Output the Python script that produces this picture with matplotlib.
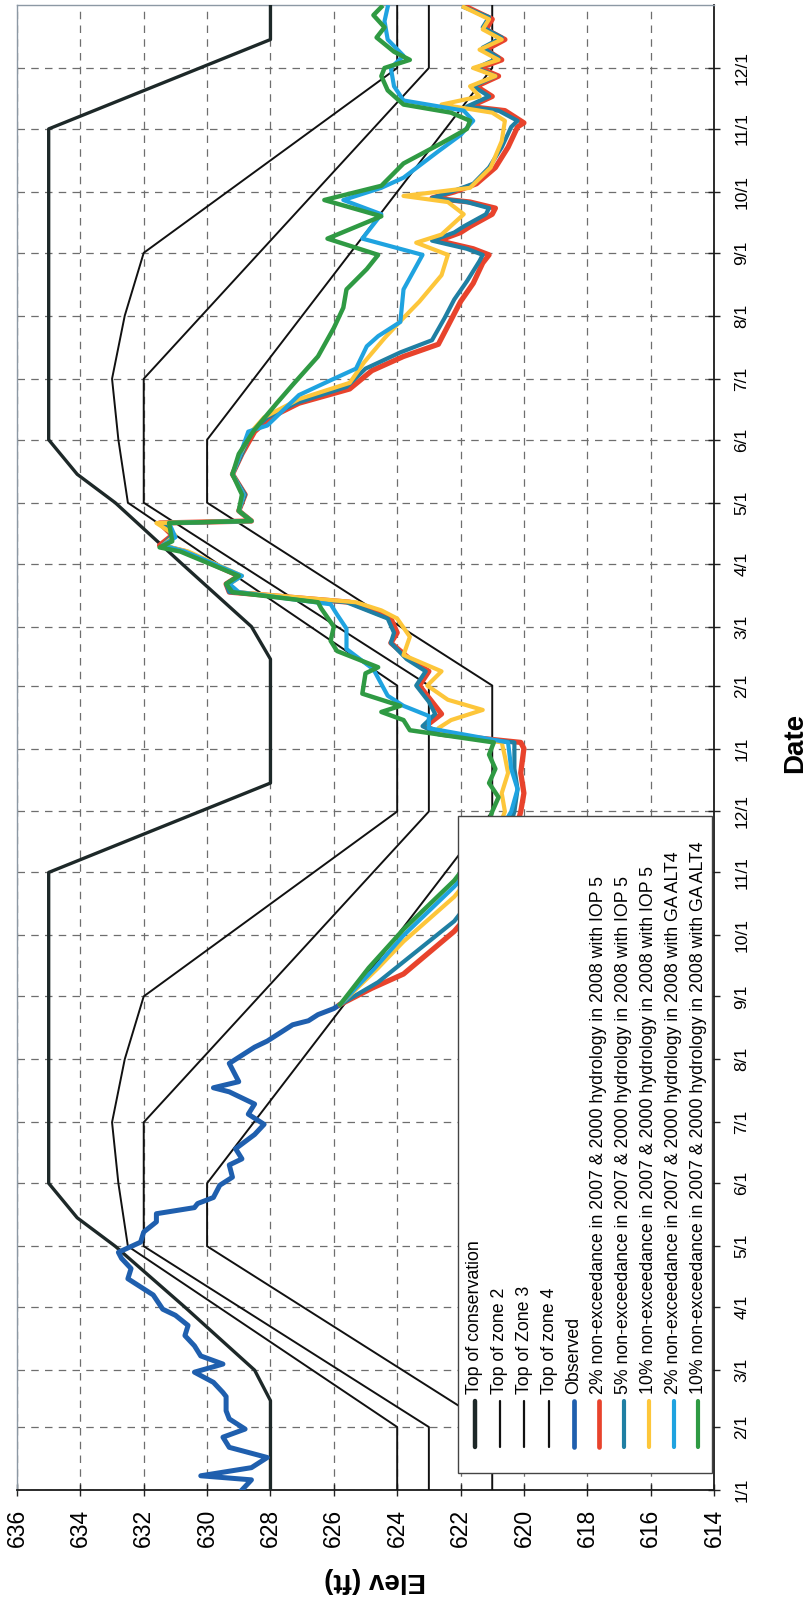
import matplotlib
matplotlib.use("Agg")
import matplotlib.pyplot as plt
import numpy as np
from matplotlib.patches import Rectangle

plt.rcParams['font.family'] = ['Liberation Sans', 'DejaVu Sans']

# ---- rule curves ----
cons_dates = ['2007-01-01', '2007-02-14', '2007-03-01', '2007-04-01', '2007-05-01', '2007-05-15',
              '2007-06-01', '2007-11-01', '2007-12-15', '2008-02-14', '2008-03-01', '2008-04-01',
              '2008-05-01', '2008-05-15', '2008-06-01', '2008-11-01', '2008-12-15', '2009-01-01']
cons_elev = [628, 628, 628.5, 630.7, 632.9, 634.1, 635, 635, 628, 628, 628.6, 630.8,
             632.9, 634.1, 635, 635, 628, 628]

zone2_dates = ['2007-01-01', '2007-02-01', '2007-05-01', '2007-06-01', '2007-07-01', '2007-08-01',
               '2007-09-01', '2007-12-01', '2008-02-01', '2008-05-01', '2008-06-01', '2008-07-01',
               '2008-08-01', '2008-09-01', '2008-12-01', '2009-01-01']
zone2_elev = [624, 624, 632.5, 632.8, 633.0, 632.6, 632.0, 624, 624, 632.5, 632.8, 633.0,
              632.6, 632.0, 624, 624]

zone3_dates = ['2007-01-01', '2007-02-01', '2007-05-01', '2007-07-01', '2007-12-01',
               '2008-02-01', '2008-05-01', '2008-07-01', '2008-12-01', '2009-01-01']
zone3_elev = [623, 623, 632, 632, 623, 623, 632, 632, 623, 623]

zone4_dates = ['2007-01-01', '2007-02-01', '2007-05-01', '2007-06-01', '2007-12-01',
               '2008-02-01', '2008-05-01', '2008-06-01', '2008-12-01', '2009-01-01']
zone4_elev = [621, 621, 630, 630, 621, 621, 630, 630, 621, 621]

# ---- observed pool elevation ----
obs_dates = ['2007-01-01', '2007-01-06', '2007-01-08', '2007-01-12', '2007-01-17', '2007-01-22',
             '2007-01-27', '2007-01-31', '2007-02-05', '2007-02-09', '2007-02-16', '2007-02-18',
             '2007-02-23', '2007-02-28', '2007-03-04', '2007-03-08', '2007-03-13', '2007-03-18',
             '2007-03-23', '2007-03-28', '2007-03-31', '2007-04-07', '2007-04-12', '2007-04-15',
             '2007-04-20', '2007-04-25', '2007-04-28', '2007-05-03', '2007-05-08', '2007-05-13',
             '2007-05-17', '2007-05-20', '2007-05-22', '2007-05-25', '2007-05-31', '2007-06-04',
             '2007-06-10', '2007-06-13', '2007-06-18', '2007-06-25', '2007-06-30', '2007-07-05',
             '2007-07-10', '2007-07-16', '2007-07-18', '2007-07-21', '2007-07-30', '2007-08-07',
             '2007-08-10', '2007-08-15', '2007-08-18', '2007-08-20', '2007-08-23', '2007-08-26',
             '2007-08-28']
obs_elev = [628.9, 628.6, 630.2, 628.6, 628.1, 629.3,
            629.5, 628.8, 629.3, 629.4, 629.4, 629.5,
            629.8, 630.4, 629.5, 630.2, 630.4, 630.7,
            630.6, 631.0, 631.4, 631.7, 632.2, 632.5,
            632.4, 632.7, 632.8, 632.1, 632.0, 631.6,
            631.6, 630.4, 630.3, 629.8, 629.6, 629.2,
            629.3, 628.9, 629.1, 628.5, 628.2, 628.7,
            628.5, 629.3, 629.8, 629.0, 629.3, 628.5,
            628.1, 627.6, 627.3, 626.8, 626.5, 626.0,
            625.8]

# ---- forecast runs ----
red_dates = ['2007-08-28', '2007-09-05', '2007-09-12', '2007-10-03', '2007-11-01', '2007-12-01',
             '2007-12-10', '2007-12-20', '2008-01-01', '2008-01-04', '2008-01-08', '2008-01-12',
             '2008-01-18', '2008-01-24', '2008-02-01', '2008-02-08', '2008-02-14', '2008-02-22',
             '2008-02-27', '2008-03-05', '2008-03-13', '2008-03-18', '2008-03-22', '2008-03-26',
             '2008-04-07', '2008-04-10', '2008-04-15', '2008-04-21', '2008-04-22', '2008-04-27',
             '2008-05-05', '2008-05-15', '2008-05-25', '2008-06-05', '2008-06-12', '2008-06-19',
             '2008-06-26', '2008-07-05', '2008-07-12', '2008-07-18', '2008-07-30', '2008-08-08',
             '2008-08-17', '2008-08-27', '2008-08-31', '2008-09-03', '2008-09-07', '2008-09-11',
             '2008-09-14', '2008-09-20', '2008-09-23', '2008-09-26', '2008-09-28', '2008-10-01',
             '2008-10-05', '2008-10-13', '2008-10-23', '2008-11-02', '2008-11-04', '2008-11-10',
             '2008-11-12', '2008-11-17', '2008-11-22', '2008-11-27', '2008-12-01', '2008-12-05',
             '2008-12-10', '2008-12-15', '2008-12-20', '2008-12-25', '2008-12-31']
red_elev = [625.8, 624.8, 623.8, 622.2, 620.6, 620.1,
            620.0, 620.1, 620.0, 620.1, 622.6, 623.1,
            622.6, 622.9, 623.3, 623.0, 623.6, 624.2,
            624.0, 624.2, 625.5, 629.3, 629.4, 629.0,
            630.7, 631.5, 631.1, 631.5, 628.6, 629.0,
            628.8, 629.2, 628.9, 628.5, 628.0, 627.1,
            625.5, 624.8, 623.8, 622.7, 622.3, 622.0,
            621.6, 621.3, 621.1, 621.6, 622.7, 622.0,
            621.7, 621.0, 620.9, 621.7, 622.9, 622.2,
            621.5, 620.9, 620.5, 620.2, 620.0, 620.6,
            621.7, 621.0, 621.5, 620.8, 621.4, 620.7,
            621.2, 620.6, 621.2, 621.0, 621.8]

teal_dates = ['2007-08-28', '2007-09-08', '2007-09-18', '2007-10-08', '2007-11-05', '2007-12-01',
              '2007-12-12', '2007-12-22', '2008-01-04', '2008-01-08', '2008-01-12', '2008-01-18',
              '2008-01-24', '2008-02-01', '2008-02-08', '2008-02-14', '2008-02-22', '2008-02-27',
              '2008-03-05', '2008-03-13', '2008-03-18', '2008-03-22', '2008-03-26', '2008-04-07',
              '2008-04-10', '2008-04-15', '2008-04-21', '2008-04-22', '2008-04-27', '2008-05-05',
              '2008-05-15', '2008-05-25', '2008-06-05', '2008-06-12', '2008-06-19', '2008-06-27',
              '2008-07-06', '2008-07-14', '2008-07-20', '2008-07-31', '2008-08-09', '2008-08-18',
              '2008-08-28', '2008-08-31', '2008-09-03', '2008-09-07', '2008-09-11', '2008-09-14',
              '2008-09-20', '2008-09-23', '2008-09-26', '2008-09-28', '2008-10-01', '2008-10-05',
              '2008-10-13', '2008-10-23', '2008-11-02', '2008-11-05', '2008-11-10', '2008-11-12',
              '2008-11-17', '2008-11-22', '2008-11-27', '2008-12-01', '2008-12-06', '2008-12-11',
              '2008-12-16', '2008-12-21', '2008-12-26', '2008-12-31']
teal_elev = [625.8, 624.6, 623.8, 622.2, 620.8, 620.3,
             620.2, 620.3, 620.3, 622.7, 623.2, 622.8,
             623.0, 623.4, 623.1, 623.7, 624.2, 624.1,
             624.3, 625.6, 629.3, 629.4, 629.0, 630.7,
             631.4, 631.1, 631.4, 628.6, 629.0, 628.8,
             629.2, 628.9, 628.6, 628.1, 627.2, 625.6,
             625.0, 623.9, 622.9, 622.5, 622.2, 621.8,
             621.4, 621.3, 621.8, 622.9, 622.2, 621.9,
             621.2, 621.1, 621.8, 622.9, 622.3, 621.6,
             621.1, 620.7, 620.4, 620.2, 620.8, 621.8,
             621.1, 621.6, 620.9, 621.5, 620.8, 621.3,
             620.7, 621.3, 621.1, 621.9]

yellow_dates = ['2007-08-28', '2007-09-15', '2007-09-28', '2007-10-20', '2007-11-10', '2007-12-01',
                '2007-12-10', '2007-12-20', '2007-12-28', '2008-01-04', '2008-01-08', '2008-01-11',
                '2008-01-15', '2008-01-20', '2008-01-25', '2008-02-01', '2008-02-08', '2008-02-16',
                '2008-02-25', '2008-03-05', '2008-03-09', '2008-03-13', '2008-03-18', '2008-03-22',
                '2008-03-26', '2008-04-07', '2008-04-10', '2008-04-15', '2008-04-21', '2008-04-22',
                '2008-04-27', '2008-05-05', '2008-05-15', '2008-05-25', '2008-06-05', '2008-06-12',
                '2008-06-21', '2008-06-29', '2008-07-09', '2008-07-21', '2008-07-31', '2008-08-08',
                '2008-08-21', '2008-08-31', '2008-09-06', '2008-09-10', '2008-09-20', '2008-09-26',
                '2008-09-29', '2008-10-03', '2008-10-13', '2008-10-26', '2008-11-05', '2008-11-09',
                '2008-11-13', '2008-11-17', '2008-11-22', '2008-11-27', '2008-12-01', '2008-12-05',
                '2008-12-10', '2008-12-15', '2008-12-20', '2008-12-25', '2008-12-31']
yellow_elev = [625.8, 624.6, 623.8, 622.2, 621.1, 620.6,
               620.7, 620.5, 620.6, 620.7, 622.5, 622.7,
               622.3, 621.3, 622.4, 623.05, 622.6, 623.8,
               623.6, 624.0, 624.5, 625.3, 629.1, 629.3,
               628.9, 630.6, 631.4, 631.0, 631.6, 628.6,
               629.0, 628.85, 629.2, 628.95, 628.6, 628.2,
               627.1, 625.5, 625.05, 624.4, 623.8, 623.3,
               622.6, 622.4, 623.4, 622.6, 621.9, 622.4,
               623.8, 621.7, 621.05, 620.7, 620.6, 621.0,
               622.6, 621.4, 621.7, 620.9, 621.6, 620.8,
               621.4, 620.7, 621.3, 621.1, 621.9]

lblue_dates = ['2007-08-28', '2007-09-15', '2007-10-01', '2007-10-25', '2007-11-15', '2007-12-01',
               '2007-12-12', '2007-12-22', '2008-01-04', '2008-01-11', '2008-01-17', '2008-01-22',
               '2008-01-27', '2008-02-09', '2008-02-19', '2008-02-29', '2008-03-07', '2008-03-12',
               '2008-03-18', '2008-03-22', '2008-03-26', '2008-04-07', '2008-04-10', '2008-04-14',
               '2008-04-21', '2008-04-22', '2008-04-27', '2008-05-05', '2008-05-15', '2008-05-25',
               '2008-06-05', '2008-06-08', '2008-06-23', '2008-07-01', '2008-07-06', '2008-07-17',
               '2008-07-22', '2008-07-29', '2008-08-14', '2008-08-31', '2008-09-08', '2008-09-20',
               '2008-09-27', '2008-10-03', '2008-10-08', '2008-10-21', '2008-10-29', '2008-11-05',
               '2008-11-10', '2008-11-15', '2008-11-22', '2008-12-01', '2008-12-07', '2008-12-15',
               '2008-12-24', '2008-12-31']
lblue_elev = [625.8, 624.7, 623.8, 622.2, 621.0, 620.4,
              620.2, 620.4, 620.5, 623.0, 623.0, 623.8,
              624.3, 624.75, 625.6, 625.6, 625.9, 626.1,
              629.0, 629.3, 628.9, 630.7, 631.4, 631.0,
              631.2, 628.6, 629.0, 628.85, 629.2, 628.95,
              628.7, 628.1, 627.1, 626.0, 625.3, 624.96,
              624.6, 623.9, 623.8, 623.2, 625.1, 624.5,
              625.7, 624.5, 623.8, 622.7, 622.0, 621.6,
              621.9, 623.8, 624.1, 624.2, 623.8, 624.3,
              624.4, 624.3]

green_dates = ['2007-08-28', '2007-09-15', '2007-10-04', '2007-10-28', '2007-11-15', '2007-12-01',
               '2007-12-08', '2007-12-15', '2007-12-22', '2007-12-29', '2008-01-04', '2008-01-10',
               '2008-01-15', '2008-01-19', '2008-01-22', '2008-01-28', '2008-02-07', '2008-02-10',
               '2008-02-18', '2008-02-23', '2008-03-01', '2008-03-10', '2008-03-13', '2008-03-18',
               '2008-03-22', '2008-03-26', '2008-04-07', '2008-04-09', '2008-04-12', '2008-04-21',
               '2008-04-22', '2008-04-27', '2008-05-05', '2008-05-15', '2008-05-25', '2008-06-06',
               '2008-06-19', '2008-06-28', '2008-07-12', '2008-07-26', '2008-08-05', '2008-08-14',
               '2008-08-24', '2008-08-31', '2008-09-08', '2008-09-19', '2008-09-27', '2008-10-04',
               '2008-10-15', '2008-10-25', '2008-11-01', '2008-11-05', '2008-11-09', '2008-11-13',
               '2008-11-20', '2008-11-27', '2008-12-01', '2008-12-05', '2008-12-09', '2008-12-16',
               '2008-12-21', '2008-12-27', '2008-12-31']
green_elev = [625.8, 624.9, 623.8, 622.2, 621.3, 621.0,
              620.8, 621.1, 620.9, 621.1, 620.95, 623.6,
              623.8, 624.5, 623.9, 625.1, 625.0, 624.6,
              625.9, 626.1, 626.0, 626.4, 626.5, 629.2,
              629.4, 629.0, 630.85, 631.5, 631.1, 631.2,
              628.6, 629.0, 628.9, 629.2, 629.0, 628.5,
              627.8, 627.3, 626.5, 626.0, 625.7, 625.6,
              624.96, 624.6, 626.2, 624.5, 626.3, 624.5,
              623.8, 622.6, 621.8, 621.7, 622.3, 623.8,
              624.3, 624.5, 624.4, 623.6, 624.1, 624.65,
              624.4, 624.75, 624.5]

elev_ticks = [636, 634, 632, 630, 628, 626, 624, 622, 620, 618, 616, 614]

legend_labels = [
    "Top of conservation",
    "Top of zone 2",
    "Top of Zone 3",
    "Top of zone 4",
    "Observed",
    "2% non-exceedance in 2007 & 2000 hydrology in 2008 with IOP 5",
    "5% non-exceedance in 2007 & 2000 hydrology in 2008 with IOP 5",
    "10% non-exceedance in 2007 & 2000 hydrology in 2008 with IOP 5",
    "2% non-exceedance in 2007 & 2000 hydrology in 2008 with GA ALT4",
    "10% non-exceedance in 2007 & 2000 hydrology in 2008 with GA ALT4",
]


def d(lst):
    return np.array(lst, dtype='datetime64[D]')


W, H = 808, 1618
L, R, T, B = 17, 714, 5, 1490          # plot area in pixels
fig = plt.figure(figsize=(W / 100, H / 100), dpi=100)
ax = fig.add_axes([L / W, 1 - B / H, (R - L) / W, (B - T) / H])


def axx(px):
    return (px - L) / (R - L)


def axy(py):
    return (B - py) / (B - T)


# the chart is laid on its side: elevation runs across, dates run upward
ax.plot(cons_elev, d(cons_dates), color='#1d2828', lw=2.4, zorder=3)
ax.plot(zone2_elev, d(zone2_dates), color='#111111', lw=1.4, zorder=3)
ax.plot(zone3_elev, d(zone3_dates), color='#111111', lw=1.4, zorder=3)
ax.plot(zone4_elev, d(zone4_dates), color='#111111', lw=1.4, zorder=3)
ax.plot(obs_elev, d(obs_dates), color='#1f5fae', lw=3.6, zorder=4, solid_joinstyle='round')

runs = [
    (red_elev, red_dates, '#e8432c', 3.8),
    (teal_elev, teal_dates, '#1f7fa3', 3.0),
    (yellow_elev, yellow_dates, '#fdc63a', 3.0),
    (lblue_elev, lblue_dates, '#1fa3e0', 3.0),
    (green_elev, green_dates, '#2f9a43', 3.2),
]
for elev, dates, col, lw in runs:
    ax.plot(elev, d(dates), color=col, lw=lw, zorder=5, solid_joinstyle='round')

ax.set_xlim(636, 614)
ax.set_ylim(np.datetime64('2007-01-01'), np.datetime64('2009-01-01'))

# elevation axis along the bottom
ax.set_xticks(elev_ticks)
ax.set_xticklabels([str(v) for v in elev_ticks])
ax.tick_params(axis='x', direction='inout', length=9, width=1, pad=9,
               labelsize=16.5, labelrotation=90, color='#222222')

# date axis along the right
month_ticks = np.arange('2007-01', '2009-01', dtype='datetime64[M]').astype('datetime64[D]')
month_labels = ["%d/1" % (int(str(m)[5:7])) for m in month_ticks]
ax.yaxis.tick_right()
ax.set_yticks(month_ticks)
ax.set_yticklabels(month_labels)
ax.tick_params(axis='y', direction='inout', length=9, width=1, pad=10,
               labelsize=12.5, labelrotation=90, color='#222222')
for lab in ax.get_yticklabels():
    lab.set_va('center')

ax.grid(True, color='#6e6e6e', lw=0.9, linestyle=(0, (6, 5)))
ax.set_axisbelow(True)

for side in ['top', 'left']:
    ax.spines[side].set_color('#8c98a4')
    ax.spines[side].set_linewidth(1.0)
for side in ['bottom', 'right']:
    ax.spines[side].set_color('#1a1a1a')
    ax.spines[side].set_linewidth(1.3)

ax.set_xlabel("Elev (ft)", fontsize=20, fontweight='bold', rotation=180)
ax.xaxis.set_label_coords(axx(375), axy(1580))
ax.xaxis.label.set_va('center')
ax.yaxis.set_label_position('right')
ax.set_ylabel("Date", fontsize=20, fontweight='bold', rotation=90)
ax.yaxis.set_label_coords(axx(795), axy(743))
ax.yaxis.label.set_va('center')
ax.yaxis.label.set_ha('center')

# legend drawn by hand so it can stand on its side like the rest
box = Rectangle((axx(458), axy(1473)), axx(712) - axx(458), axy(816) - axy(1473),
                transform=ax.transAxes, facecolor='white', edgecolor='#444444',
                lw=1.0, zorder=10, clip_on=False)
ax.add_patch(box)
styles = [('#1d2828', 3.2), ('#111111', 1.6), ('#111111', 1.6), ('#111111', 1.6),
          ('#1f5fae', 3.4), ('#e8432c', 3.4), ('#1f7fa3', 3.0), ('#fdc63a', 3.0),
          ('#1fa3e0', 3.0), ('#2f9a43', 3.0)]
for i, (label, (col, lw)) in enumerate(zip(legend_labels, styles)):
    xa = axx(474.7 + 24.85 * i)
    ax.plot([xa, xa], [axy(1447), axy(1401)], transform=ax.transAxes, color=col, lw=lw,
            solid_capstyle='round', zorder=11, clip_on=False)
    ax.text(xa, axy(1394), label, rotation=90, ha='center', va='bottom', fontsize=12.8,
            transform=ax.transAxes, zorder=11)

fig.savefig('out.png', dpi=100)
